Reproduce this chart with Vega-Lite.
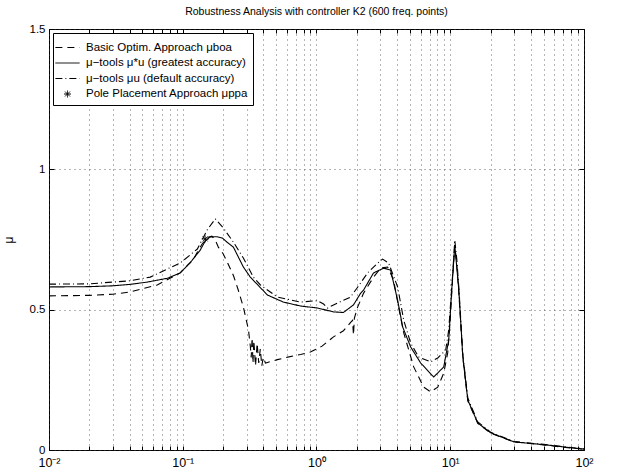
{
  "$schema": "https://vega.github.io/schema/vega-lite/v6.json",
  "width": 535,
  "height": 421,
  "autosize": {"type": "none"},
  "padding": {"left": 49, "top": 29, "right": 36, "bottom": 22},
  "background": "white",
  "title": {"text": "Robustness Analysis with controller K2 (600 freq. points)", "fontSize": 10.5, "fontWeight": "normal", "font": "Liberation Sans", "color": "black", "offset": 6, "anchor": "middle"},
  "datasets": {
    "curves": [
      {"s":"boa","f":0.01,"mu":0.549},{"s":"boa","f":0.02,"mu":0.551},{"s":"boa","f":0.03,"mu":0.555},{"s":"boa","f":0.0405,"mu":0.563},{"s":"boa","f":0.0645,"mu":0.588},{"s":"boa","f":0.0957,"mu":0.631},{"s":"boa","f":0.12,"mu":0.68},{"s":"boa","f":0.14,"mu":0.735},{"s":"boa","f":0.155,"mu":0.758},{"s":"boa","f":0.165,"mu":0.762},{"s":"boa","f":0.175,"mu":0.748},{"s":"boa","f":0.185,"mu":0.722},{"s":"boa","f":0.2,"mu":0.7},{"s":"boa","f":0.215,"mu":0.67},{"s":"boa","f":0.24,"mu":0.62},{"s":"boa","f":0.26,"mu":0.57},{"s":"boa","f":0.284,"mu":0.509},{"s":"boa","f":0.31,"mu":0.428},{"s":"boa","f":0.32,"mu":0.37},{"s":"boa","f":0.325,"mu":0.33},{"s":"boa","f":0.33,"mu":0.4},{"s":"boa","f":0.335,"mu":0.31},{"s":"boa","f":0.34,"mu":0.39},{"s":"boa","f":0.35,"mu":0.3},{"s":"boa","f":0.36,"mu":0.38},{"s":"boa","f":0.37,"mu":0.31},{"s":"boa","f":0.38,"mu":0.36},{"s":"boa","f":0.39,"mu":0.3},{"s":"boa","f":0.4,"mu":0.33},{"s":"boa","f":0.415,"mu":0.31},{"s":"boa","f":0.43,"mu":0.312},{"s":"boa","f":0.51,"mu":0.322},{"s":"boa","f":0.61,"mu":0.331},{"s":"boa","f":0.76,"mu":0.34},{"s":"boa","f":0.9,"mu":0.349},{"s":"boa","f":1.1,"mu":0.37},{"s":"boa","f":1.34,"mu":0.403},{"s":"boa","f":1.59,"mu":0.425},{"s":"boa","f":1.7,"mu":0.44},{"s":"boa","f":1.8,"mu":0.455},{"s":"boa","f":1.86,"mu":0.462},{"s":"boa","f":1.89,"mu":0.41},{"s":"boa","f":1.92,"mu":0.47},{"s":"boa","f":2.03,"mu":0.509},{"s":"boa","f":2.25,"mu":0.559},{"s":"boa","f":2.67,"mu":0.616},{"s":"boa","f":3.02,"mu":0.648},{"s":"boa","f":3.4,"mu":0.652},{"s":"boa","f":3.77,"mu":0.606},{"s":"boa","f":4.11,"mu":0.509},{"s":"boa","f":4.49,"mu":0.417},{"s":"boa","f":5.33,"mu":0.296},{"s":"boa","f":6.33,"mu":0.224},{"s":"boa","f":7.14,"mu":0.207},{"s":"boa","f":8.06,"mu":0.224},{"s":"boa","f":8.94,"mu":0.274},{"s":"boa","f":9.57,"mu":0.346},{"s":"boa","f":9.91,"mu":0.438},{"s":"boa","f":10.44,"mu":0.62},{"s":"boa","f":10.81,"mu":0.73},{"s":"boa","f":11.19,"mu":0.66},{"s":"boa","f":11.59,"mu":0.56},{"s":"boa","f":12.42,"mu":0.33},{"s":"boa","f":13.53,"mu":0.175},{"s":"boa","f":16.07,"mu":0.095},{"s":"boa","f":20.1,"mu":0.06},{"s":"boa","f":29.9,"mu":0.029},{"s":"boa","f":50,"mu":0.018},{"s":"boa","f":70,"mu":0.01},{"s":"boa","f":100,"mu":0.003},
      {"s":"greatest","f":0.01,"mu":0.581},{"s":"greatest","f":0.02,"mu":0.582},{"s":"greatest","f":0.03,"mu":0.585},{"s":"greatest","f":0.04,"mu":0.59},{"s":"greatest","f":0.054,"mu":0.598},{"s":"greatest","f":0.077,"mu":0.612},{"s":"greatest","f":0.0957,"mu":0.631},{"s":"greatest","f":0.114,"mu":0.668},{"s":"greatest","f":0.135,"mu":0.712},{"s":"greatest","f":0.1475,"mu":0.745},{"s":"greatest","f":0.16,"mu":0.759},{"s":"greatest","f":0.18,"mu":0.76},{"s":"greatest","f":0.198,"mu":0.755},{"s":"greatest","f":0.215,"mu":0.74},{"s":"greatest","f":0.239,"mu":0.723},{"s":"greatest","f":0.284,"mu":0.652},{"s":"greatest","f":0.32,"mu":0.616},{"s":"greatest","f":0.43,"mu":0.552},{"s":"greatest","f":0.566,"mu":0.527},{"s":"greatest","f":0.759,"mu":0.513},{"s":"greatest","f":1.016,"mu":0.506},{"s":"greatest","f":1.34,"mu":0.492},{"s":"greatest","f":1.59,"mu":0.49},{"s":"greatest","f":1.89,"mu":0.517},{"s":"greatest","f":2.14,"mu":0.559},{"s":"greatest","f":2.25,"mu":0.57},{"s":"greatest","f":2.67,"mu":0.631},{"s":"greatest","f":3.18,"mu":0.648},{"s":"greatest","f":3.58,"mu":0.641},{"s":"greatest","f":4.04,"mu":0.534},{"s":"greatest","f":4.41,"mu":0.438},{"s":"greatest","f":5.06,"mu":0.367},{"s":"greatest","f":6.01,"mu":0.31},{"s":"greatest","f":7.52,"mu":0.26},{"s":"greatest","f":8.94,"mu":0.296},{"s":"greatest","f":9.74,"mu":0.392},{"s":"greatest","f":10.26,"mu":0.57},{"s":"greatest","f":10.81,"mu":0.73},{"s":"greatest","f":11.59,"mu":0.57},{"s":"greatest","f":12.42,"mu":0.331},{"s":"greatest","f":13.53,"mu":0.178},{"s":"greatest","f":16.07,"mu":0.096},{"s":"greatest","f":20.1,"mu":0.061},{"s":"greatest","f":29.9,"mu":0.029},{"s":"greatest","f":53,"mu":0.018},{"s":"greatest","f":70,"mu":0.011},{"s":"greatest","f":100,"mu":0.003},
      {"s":"default","f":0.01,"mu":0.591},{"s":"default","f":0.02,"mu":0.592},{"s":"default","f":0.0405,"mu":0.603},{"s":"default","f":0.0571,"mu":0.616},{"s":"default","f":0.0766,"mu":0.645},{"s":"default","f":0.0957,"mu":0.666},{"s":"default","f":0.1285,"mu":0.716},{"s":"default","f":0.1527,"mu":0.785},{"s":"default","f":0.1751,"mu":0.823},{"s":"default","f":0.2011,"mu":0.791},{"s":"default","f":0.2388,"mu":0.741},{"s":"default","f":0.2838,"mu":0.684},{"s":"default","f":0.3374,"mu":0.616},{"s":"default","f":0.381,"mu":0.588},{"s":"default","f":0.51,"mu":0.545},{"s":"default","f":0.759,"mu":0.527},{"s":"default","f":1.016,"mu":0.532},{"s":"default","f":1.13,"mu":0.52},{"s":"default","f":1.208,"mu":0.506},{"s":"default","f":1.34,"mu":0.517},{"s":"default","f":1.797,"mu":0.545},{"s":"default","f":2.03,"mu":0.58},{"s":"default","f":2.41,"mu":0.631},{"s":"default","f":2.865,"mu":0.666},{"s":"default","f":3.121,"mu":0.68},{"s":"default","f":3.461,"mu":0.666},{"s":"default","f":4.043,"mu":0.581},{"s":"default","f":4.487,"mu":0.463},{"s":"default","f":5.058,"mu":0.381},{"s":"default","f":5.809,"mu":0.331},{"s":"default","f":7.141,"mu":0.314},{"s":"default","f":8.062,"mu":0.328},{"s":"default","f":9.249,"mu":0.356},{"s":"default","f":9.742,"mu":0.428},{"s":"default","f":10.44,"mu":0.631},{"s":"default","f":10.81,"mu":0.748},{"s":"default","f":11.19,"mu":0.68},{"s":"default","f":11.59,"mu":0.58},{"s":"default","f":12.42,"mu":0.34},{"s":"default","f":13.53,"mu":0.185},{"s":"default","f":16.07,"mu":0.1},{"s":"default","f":20.1,"mu":0.063},{"s":"default","f":29.9,"mu":0.03},{"s":"default","f":50,"mu":0.02},{"s":"default","f":70,"mu":0.012},{"s":"default","f":100,"mu":0.004}
    ],
    "pole": [
      {"s":"ppa","f":0.147,"mu":0.752}
    ]
  },
  "layer": [
    {
      "data": {"name": "curves"},
      "mark": {"type": "line", "color": "black", "strokeWidth": 1.1},
      "encoding": {
        "x": {"field": "f", "type": "quantitative", "scale": {"type": "log", "domain": [0.01, 100], "nice": false},
          "axis": {"orient": "bottom", "title": null,
            "values": [0.01,0.02,0.03,0.04,0.05,0.06,0.07,0.08,0.09,0.1,0.2,0.3,0.4,0.5,0.6,0.7,0.8,0.9,1,2,3,4,5,6,7,8,9,10,20,30,40,50,60,70,80,90,100],
            "labelExpr": "datum.value == 0.01 ? '10⁻²' : datum.value == 0.1 ? '10⁻¹' : datum.value == 1 ? '10⁰' : datum.value == 10 ? '10¹' : datum.value == 100 ? '10²' : ''",
            "labelOverlap": false, "labelFlush": false, "labelBound": false, "labelFontSize": 12.5,
            "grid": true, "gridDash": [1, 4], "gridColor": "#444", "gridWidth": 0.8,
            "tickSize": -4, "labelPadding": 10, "domain": false}},
        "y": {"field": "mu", "type": "quantitative", "scale": {"domain": [0, 1.5], "nice": false, "zero": false},
          "axis": {"orient": "left", "title": "μ", "values": [0, 0.5, 1, 1.5], "labelExpr": "datum.value + ''",
            "grid": true, "gridDash": [1, 4], "gridColor": "#444", "gridWidth": 0.8,
            "tickSize": -5, "labelPadding": 9, "domain": false, "titlePadding": 14}},
        "strokeDash": {"field": "s", "type": "nominal",
          "scale": {"domain": ["boa", "greatest", "default", "ppa"], "range": [[7, 5], [1, 0], [7, 3, 1, 3], [1, 0]]},
          "legend": {"labelExpr": "datum.value == 'boa' ? 'Basic Optim. Approach μboa' : datum.value == 'greatest' ? 'μ−tools μ*u (greatest accuracy)' : datum.value == 'default' ? 'μ−tools μu (default accuracy)' : 'Pole Placement Approach μppa'"}}
      }
    },
    {
      "data": {"name": "pole"},
      "mark": {"type": "point", "filled": false, "color": "black", "size": 300, "strokeWidth": 1, "opacity": 1},
      "encoding": {
        "x": {"field": "f", "type": "quantitative",
          "axis": {"orient": "top", "title": null, "labels": false, "grid": false, "domain": false, "tickSize": -4,
            "values": [0.01,0.02,0.03,0.04,0.05,0.06,0.07,0.08,0.09,0.1,0.2,0.3,0.4,0.5,0.6,0.7,0.8,0.9,1,2,3,4,5,6,7,8,9,10,20,30,40,50,60,70,80,90,100]}},
        "y": {"field": "mu", "type": "quantitative",
          "axis": {"orient": "right", "title": null, "labels": false, "grid": false, "domain": false, "tickSize": -5, "values": [0, 0.5, 1, 1.5]}},
        "shape": {"field": "s", "type": "nominal",
          "scale": {"domain": ["boa", "greatest", "default", "ppa"], "range": ["M-1.4,0L1.4,0", "M-1.4,0L1.4,0", "M-1.4,0L1.4,0", "M-0.4,0L0.4,0M0,-0.4L0,0.4M-0.28,-0.28L0.28,0.28M-0.28,0.28L0.28,-0.28"]},
          "legend": {"labelExpr": "datum.value == 'boa' ? 'Basic Optim. Approach μboa' : datum.value == 'greatest' ? 'μ−tools μ*u (greatest accuracy)' : datum.value == 'default' ? 'μ−tools μu (default accuracy)' : 'Pole Placement Approach μppa'"}},
        "strokeDash": {"field": "s", "type": "nominal",
          "scale": {"domain": ["boa", "greatest", "default", "ppa"], "range": [[7, 5], [1, 0], [7, 3, 1, 3], [1, 0]]},
          "legend": {"labelExpr": "datum.value == 'boa' ? 'Basic Optim. Approach μboa' : datum.value == 'greatest' ? 'μ−tools μ*u (greatest accuracy)' : datum.value == 'default' ? 'μ−tools μu (default accuracy)' : 'Pole Placement Approach μppa'"}}
      }
    }
  ],
  "resolve": {"axis": {"x": "independent", "y": "independent"}},
  "config": {
    "font": "Liberation Sans",
    "view": {"stroke": "black", "strokeWidth": 1},
    "axis": {"labelFont": "Liberation Sans", "labelFontSize": 11.5, "labelColor": "black", "tickColor": "black", "titleFont": "Liberation Sans", "titleFontSize": 12, "titleFontWeight": "normal", "titleColor": "black"},
    "legend": {"orient": "top-left", "offset": 4, "title": null, "padding": 5, "strokeColor": "black", "fillColor": "white", "cornerRadius": 0,
      "labelFont": "Liberation Sans", "labelFontSize": 11.5, "labelColor": "black", "labelLimit": 400,
      "symbolSize": 300, "symbolStrokeWidth": 1, "symbolStrokeColor": "black", "symbolFillColor": "transparent",
      "rowPadding": 0.5, "labelOffset": 9}
  }
}
